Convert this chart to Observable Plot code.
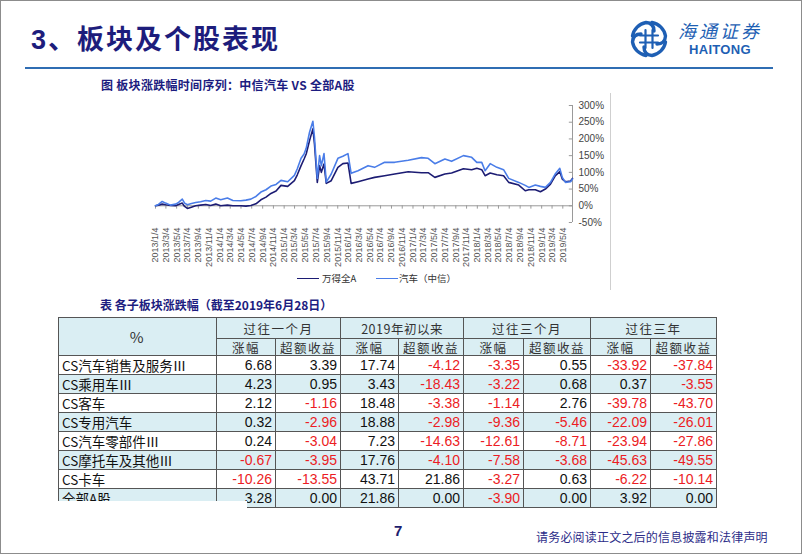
<!DOCTYPE html>
<html><head><meta charset="utf-8">
<script src="https://cdn.jsdelivr.net/npm/d3@7"></script>
<script src="https://cdn.jsdelivr.net/npm/@observablehq/plot@0.6"></script>
<style>
html,body{margin:0;padding:0;background:#fff;}
#slide{position:relative;width:802px;height:554px;overflow:hidden;font-family:"Noto Sans CJK SC",sans-serif;background:#fff;}
.abs{position:absolute;white-space:nowrap;}
#frame{left:0;top:0;width:802px;height:554px;box-sizing:border-box;border:1px solid #8c8c8c;pointer-events:none;}
#title{left:31px;top:26px;font-size:27px;line-height:28px;font-weight:bold;color:#1d1d7c;letter-spacing:2px;font-family:"Liberation Sans","Noto Sans CJK SC",sans-serif;}
#rule{left:25px;top:67px;width:748px;height:2px;background:#2f6db3;}
#brand{left:678px;top:20px;font-size:18px;line-height:20px;color:#1e5fb4;letter-spacing:3px;font-style:italic;}
#brandEn{left:689px;top:43px;font-size:13px;line-height:13px;color:#1e5fb4;font-weight:bold;font-family:"Liberation Sans",Arial,sans-serif;letter-spacing:0.3px;}
#ctitle{left:101px;top:79px;font-size:12px;line-height:12px;font-weight:bold;color:#1c1c80;letter-spacing:0.3px;}
#ttitle{left:100px;top:299px;font-size:12px;line-height:12px;font-weight:bold;color:#1c1c80;}
#chart{left:133px;top:95px;}
#imgedge{left:610px;top:93px;width:1px;height:197px;background:#cfcfcf;}
.leg{font-size:9.5px;line-height:10px;color:#333;top:273px;}
.legline{height:1.5px;top:277.5px;width:22px;}
table{position:absolute;left:58px;top:317px;border-collapse:collapse;table-layout:fixed;width:659px;}
td{border:1px solid #555;padding:0 3px;overflow:hidden;white-space:nowrap;line-height:15px;box-sizing:border-box;}
td.h{text-align:center;font-size:12.5px;color:#333;letter-spacing:1.5px;}
td.pct{font-size:15px;}
td.lab{text-align:left;font-size:13.5px;color:#111;}
td.num{text-align:right;font-family:"Liberation Sans",Arial,sans-serif;font-size:14px;color:#111;}
td.neg{color:#ec1c24;}
tr.b td{background:#daeef3;}
#cut{left:50px;top:501px;width:197px;height:10px;background:#fff;}
#pnum{left:394px;top:523px;font-size:15px;line-height:15px;font-weight:bold;color:#1d1d6e;font-family:"Liberation Sans",Arial,sans-serif;}
#foot{left:536px;top:530px;font-size:12px;line-height:13px;color:#2c2c88;letter-spacing:0.2px;}
</style>
</head><body>
<div id="slide">
  <div id="title" class="abs">3、板块及个股表现</div>
  <div id="rule" class="abs"></div>
  <svg class="abs" style="left:629px;top:19px" width="40" height="40" viewBox="-20 -20 40 40">
    <g fill="none" stroke="#1e5fb4" stroke-linecap="round">
      <g stroke-width="3.4">
        <path d="M 3 -16.5 A 16.5 16.5 0 0 1 16.5 -3 Q 16 5 8 5"/>
        <path d="M 3 -16.5 A 16.5 16.5 0 0 1 16.5 -3 Q 16 5 8 5" transform="rotate(90)"/>
        <path d="M 3 -16.5 A 16.5 16.5 0 0 1 16.5 -3 Q 16 5 8 5" transform="rotate(180)"/>
        <path d="M 3 -16.5 A 16.5 16.5 0 0 1 16.5 -3 Q 16 5 8 5" transform="rotate(270)"/>
      </g>
      <path d="M-3.5 -9 V9 M3.5 -9 V9 M-9 -3.5 H9 M-9 3.5 H9" stroke-width="2.2"/>
    </g>
  </svg>
  <div id="brand" class="abs">海通证券</div>
  <div id="brandEn" class="abs">HAITONG</div>

  <div id="ctitle" class="abs">图 板块涨跌幅时间序列：中信汽车 VS 全部A股</div>
  <div id="chart" class="abs"></div>
  <div id="imgedge" class="abs"></div>
  <div class="abs legline" style="left:297px;background:#1c1c73"></div>
  <div class="abs leg" style="left:322px">万得全A</div>
  <div class="abs legline" style="left:376px;background:#4a7de8"></div>
  <div class="abs leg" style="left:399px">汽车（中信）</div>

  <div id="ttitle" class="abs">表 各子板块涨跌幅（截至2019年6月28日）</div>
  <table id="tbl"></table>
  <div id="cut" class="abs"></div>

  <div id="pnum" class="abs">7</div>
  <div id="foot" class="abs">请务必阅读正文之后的信息披露和法律声明</div>
  <div id="frame" class="abs"></div>
</div>
<script>
// ---------- chart data ----------
const dates = ["2013-01-04","2013-01-21","2013-02-11","2013-03-02","2013-03-30","2013-04-28","2013-05-15","2013-06-05","2013-06-18","2013-07-04","2013-07-22","2013-08-20","2013-09-17","2013-10-16","2013-11-13","2013-12-12","2014-01-09","2014-02-16","2014-03-19","2014-05-03","2014-06-01","2014-06-29","2014-07-28","2014-08-25","2014-09-23","2014-10-21","2014-11-19","2014-12-17","2015-01-24","2015-03-03","2015-03-19","2015-04-10","2015-04-27","2015-05-09","2015-05-28","2015-06-16","2015-06-25","2015-07-11","2015-07-24","2015-08-03","2015-08-18","2015-08-31","2015-09-28","2015-11-05","2015-12-03","2016-01-01","2016-01-19","2016-02-27","2016-04-24","2016-05-31","2016-07-27","2016-09-22","2016-12-08","2017-02-21","2017-03-31","2017-05-08","2017-07-04","2017-08-11","2017-10-17","2017-12-03","2018-01-01","2018-01-29","2018-02-17","2018-03-18","2018-04-25","2018-06-02","2018-07-01","2018-08-27","2018-10-03","2018-10-23","2018-11-29","2018-12-28","2019-01-25","2019-02-23","2019-03-23","2019-04-17","2019-05-01","2019-05-19","2019-06-17","2019-06-28"];
const windAllA = [0,2,5,3,1,0,4,8,-2,-8,-5,0,2,4,1,5,0,2,0,0,-1,1,6,18,26,37,44,61,58,75,92,120,140,155,195,230,185,70,120,100,125,67,75,115,126,128,67,72,80,85,90,95,102,99,99,85,95,98,111,108,112,108,90,98,93,90,70,62,45,48,48,42,50,65,90,102,80,72,74,82];
const citicAuto = [0,4,13,8,2,5,10,20,8,3,6,10,12,16,14,23,18,23,16,15,17,20,28,41,48,59,64,76,72,91,110,142,155,172,220,253,205,82,150,120,156,71,95,142,148,156,97,105,120,115,130,130,136,144,142,126,140,133,150,145,130,130,105,126,115,108,82,70,61,55,62,58,55,70,96,112,85,70,72,80];
const seriesNames = ["万得全A","汽车（中信）"];
const seriesColors = ["#1c1c73","#4a7de8"];
const xTickLabels = ["2013/1/4","2013/3/4","2013/5/4","2013/7/4","2013/9/4","2013/11/4","2014/1/4","2014/3/4","2014/5/4","2014/7/4","2014/9/4","2014/11/4","2015/1/4","2015/3/4","2015/5/4","2015/7/4","2015/9/4","2015/11/4","2016/1/4","2016/3/4","2016/5/4","2016/7/4","2016/9/4","2016/11/4","2017/1/4","2017/3/4","2017/5/4","2017/7/4","2017/9/4","2017/11/4","2018/1/4","2018/3/4","2018/5/4","2018/7/4","2018/9/4","2018/11/4","2019/1/4","2019/3/4","2019/5/4"];
const yTicks = [-50,0,50,100,150,200,250,300];
const xStart = "2013-01-04", xEnd = "2019-06-28";

// ---------- table data ----------
const rowLabels = ["CS汽车销售及服务Ⅲ","CS乘用车Ⅲ","CS客车","CS专用汽车","CS汽车零部件Ⅲ","CS摩托车及其他Ⅲ","CS卡车","全部A股"];
const groupHeads = ["过往一个月","2019年初以来","过往三个月","过往三年"];
const subHeads = ["涨幅","超额收益"];
const m1Chg = [6.68,4.23,2.12,0.32,0.24,-0.67,-10.26,3.28];
const m1Ex  = [3.39,0.95,-1.16,-2.96,-3.04,-3.95,-13.55,0.00];
const ytdChg = [17.74,3.43,18.48,18.88,7.23,17.76,43.71,21.86];
const ytdEx  = [-4.12,-18.43,-3.38,-2.98,-14.63,-4.10,21.86,0.00];
const m3Chg = [-3.35,-3.22,-1.14,-9.36,-12.61,-7.58,-3.27,-3.90];
const m3Ex  = [0.55,0.68,2.76,-5.46,-8.71,-3.68,0.63,0.00];
const y3Chg = [-33.92,0.37,-39.78,-22.09,-23.94,-45.63,-6.22,3.92];
const y3Ex  = [-37.84,-3.55,-43.70,-26.01,-27.86,-49.55,-10.14,0.00];

// ---------- chart ----------
const parseISO = d3.utcParse("%Y-%m-%d");
const parseSlash = s => { const [y,m,d] = s.split("/").map(Number); return new Date(Date.UTC(y, m-1, d)); };
const fmtSlash = d => `${d.getUTCFullYear()}/${d.getUTCMonth()+1}/${d.getUTCDate()}`;
const tickDates = xTickLabels.map(parseSlash);
const x0 = parseISO(xStart), x1 = parseISO(xEnd);
const rows = [];
dates.forEach((d, i) => {
  rows.push({date: parseISO(d), value: windAllA[i], series: seriesNames[0]});
  rows.push({date: parseISO(d), value: citicAuto[i], series: seriesNames[1]});
});
const gray = "#9a9a9a";
const chart = Plot.plot({
  width: 480, height: 200,
  marginLeft: 22, marginRight: 41, marginTop: 10, marginBottom: 73,
  style: {fontFamily: "Arial, 'Liberation Sans', sans-serif", fontSize: "9px", color: "#555", background: "transparent", overflow: "visible"},
  x: {type: "utc", domain: [x0, x1], ticks: tickDates, tickFormat: fmtSlash, tickRotate: -90, tickSize: 0, tickPadding: 5, label: null},
  y: {domain: [-50, 300], axis: "right", ticks: yTicks, tickFormat: d => d + "%", tickSize: 0, tickPadding: 6, label: null},
  marks: [
    Plot.ruleY([0], {stroke: gray}),
    Plot.ruleX(tickDates, {x: d => d, y1: 0, y2: -10, stroke: gray}),
    Plot.ruleX([x1], {y1: -50, y2: 300, stroke: gray}),
    Plot.ruleY(yTicks, {y: d => d, x1: d3.utcDay.offset(x1, -18), x2: x1, stroke: gray}),
    Plot.line(rows.filter(r => r.series === seriesNames[0]), {x: "date", y: "value", stroke: seriesColors[0], strokeWidth: 1.6}),
    Plot.line(rows.filter(r => r.series === seriesNames[1]), {x: "date", y: "value", stroke: seriesColors[1], strokeWidth: 1.6})
  ]
});
chart.querySelectorAll('[aria-label^="y-axis"] text').forEach(t => { t.style.fontSize = "10px"; t.setAttribute("fill", "#444"); });
document.getElementById("chart").appendChild(chart);

// ---------- table ----------
const colWidths = [158, 59, 65, 58, 65, 60, 67, 60, 66];
const tbl = document.getElementById("tbl");
let html = "<colgroup>" + colWidths.map(w => `<col style="width:${w}px">`).join("") + "</colgroup>";
html += `<tr class="b"><td class="h pct" rowspan="2">%</td>` +
  groupHeads.map(g => `<td class="h" colspan="2" style="height:21px${/\d/.test(g) ? ';letter-spacing:0.5px' : ''}">${g}</td>`).join("") + "</tr>";
html += `<tr class="b">` + groupHeads.map(() => subHeads.map(s => `<td class="h" style="height:17px">${s}</td>`).join("")).join("") + "</tr>";
const cols = [m1Chg, m1Ex, ytdChg, ytdEx, m3Chg, m3Ex, y3Chg, y3Ex];
rowLabels.forEach((lab, i) => {
  html += `<tr${i % 2 === 1 ? ' class="b"' : ''}><td class="lab" style="height:19px">${lab}</td>` +
    cols.map(c => `<td class="num${c[i] < 0 ? ' neg' : ''}" style="height:19px">${c[i].toFixed(2)}</td>`).join("") + "</tr>";
});
tbl.innerHTML = html;
</script>
</body></html>
